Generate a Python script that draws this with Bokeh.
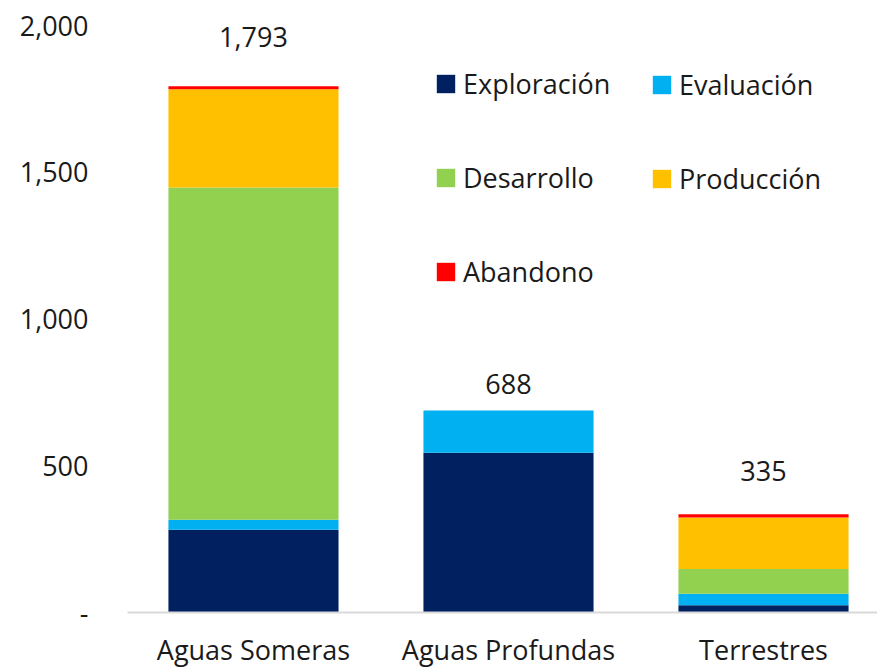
from bokeh.plotting import figure
from bokeh.models import (Range1d, FixedTicker, NumeralTickFormatter, Legend,
                          LegendItem, ColumnDataSource)
from bokeh.embed import file_html
from bokeh.resources import INLINE
from bokeh.core.properties import value

categories = ["Aguas Someras", "Aguas Profundas", "Terrestres"]
stages = ["Exploración", "Evaluación", "Desarrollo", "Producción", "Abandono"]
exploracion = [282, 544, 25]
evaluacion = [34, 144, 39]
desarrollo = [1132, 0, 84]
produccion = [335, 0, 176]
abandono = [10, 0, 11]
totals = [1793, 688, 335]
y_ticks = [0, 500, 1000, 1500, 2000]

colors = ["#002060", "#00B0F0", "#92D050", "#FFC000", "#FF0000"]
FONT = "Open Sans"
FS = "27px"
TXT = "#1a1a1a"

xs = list(range(len(categories)))
src = ColumnDataSource(dict(x=xs, **{
    stages[0]: exploracion, stages[1]: evaluacion, stages[2]: desarrollo,
    stages[3]: produccion, stages[4]: abandono}))

p = figure(width=877, height=670, x_range=Range1d(-0.494, 2.447),
           y_range=Range1d(0, 2000), output_backend="svg",
           toolbar_location=None, min_border_left=127, min_border_right=0,
           min_border_top=25, min_border_bottom=55)

rs = p.vbar_stack(stages, x="x", width=0.667, color=colors, line_color=None,
                  source=src)

lab_src = ColumnDataSource(dict(
    x=xs, y=totals, label=["{:,}".format(t) for t in totals],
    lift=[-49, -27, -43]))
p.text(x="x", y="y", text="label", source=lab_src, text_align="center",
       text_baseline="middle", y_offset="lift", text_font=value(FONT),
       text_font_size=FS, text_color=TXT)

common = dict(orientation="vertical", spacing=57, padding=0, margin=0,
              border_line_color=None, background_fill_alpha=0,
              glyph_width=23, glyph_height=23, label_standoff=6,
              label_text_font=FONT, label_text_font_size=FS,
              label_text_color=TXT, label_height=36)
legA = Legend(items=[LegendItem(label=stages[i], renderers=[rs[i]]) for i in (0, 2, 4)],
              location=(307, 322), **common)
legB = Legend(items=[LegendItem(label=stages[i], renderers=[rs[i]]) for i in (1, 3)],
              location=(523, 415), **common)
p.add_layout(legA)
p.add_layout(legB)

p.xgrid.visible = False
p.ygrid.visible = False
p.outline_line_color = None

p.xaxis.ticker = FixedTicker(ticks=xs)
p.xaxis.major_label_overrides = {i: c for i, c in zip(xs, categories)}
p.xaxis.axis_line_color = "#D9D9D9"
p.xaxis.axis_line_width = 2
p.xaxis.major_tick_line_color = None
p.xaxis.minor_tick_line_color = None
p.xaxis.major_tick_out = 0
p.xaxis.major_label_standoff = 18
p.xaxis.major_label_text_font = FONT
p.xaxis.major_label_text_font_size = FS
p.xaxis.major_label_text_color = TXT

p.yaxis.ticker = FixedTicker(ticks=y_ticks)
p.yaxis.formatter = NumeralTickFormatter(format="0,0")
p.yaxis.major_label_overrides = {0: "-"}
p.yaxis.axis_line_color = None
p.yaxis.major_tick_line_color = None
p.yaxis.minor_tick_line_color = None
p.yaxis.major_tick_out = 0
p.yaxis.major_label_standoff = 39
p.yaxis.major_label_text_font = FONT
p.yaxis.major_label_text_font_size = FS
p.yaxis.major_label_text_color = TXT

open("out.html", "w").write(file_html(p, INLINE))
